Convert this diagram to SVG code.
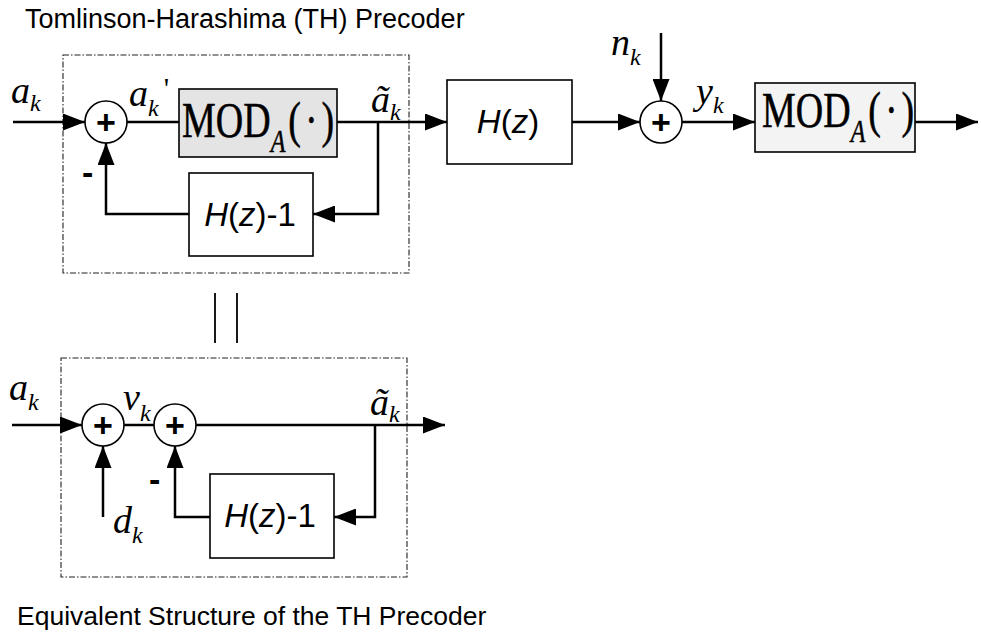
<svg xmlns="http://www.w3.org/2000/svg" width="981" height="636" viewBox="0 0 981 636">
<style>
.bg{fill:#fff}
.sig{fill:none;stroke:#000;stroke-width:2.5}
.box{fill:#fff;stroke:#000;stroke-width:1.6}
.modA{fill:#e4e4e4;stroke:#000;stroke-width:1.6}
.modB{fill:#f3f3f3;stroke:#000;stroke-width:1.6}
.sum{fill:#fff;stroke:#000;stroke-width:1.6}
.dash{fill:none;stroke:#222;stroke-width:1.1;stroke-dasharray:6,2,1.5,2}
.eq{stroke:#000;stroke-width:1.8}
.math{font-family:"Liberation Serif","Times New Roman",serif;font-style:italic;font-size:38px;fill:#000}
.sub{font-size:24px}
.modsub{font-style:italic;font-size:24px}
.paren{letter-spacing:4px}
.sans{font-family:"Liberation Sans",Arial,sans-serif;fill:#000}
.plus{font-family:"Liberation Sans",Arial,sans-serif;font-weight:bold;font-size:34px;text-anchor:middle;fill:#000}
.minus{font-family:"Liberation Sans",Arial,sans-serif;font-weight:bold;font-size:34px;fill:#000}
.mod{font-family:"Liberation Serif","Times New Roman",serif;font-size:38px;fill:#000;stroke:#000;stroke-width:0.4}
.hz{font-family:"Liberation Sans",Arial,sans-serif;font-size:33px;text-anchor:middle;fill:#000}
</style>
<defs>
<marker id="arr" markerUnits="userSpaceOnUse" markerWidth="23" markerHeight="17" refX="22" refY="8.5" orient="auto">
<path d="M0,0 L22,8.5 L0,17 Z" fill="#000"/>
</marker>
</defs>
<rect class="bg" x="0" y="0" width="981" height="636"/>

<g id="titles">
<text class="sans" x="25" y="28" font-size="27">Tomlinson-Harashima (TH) Precoder</text>
<text class="sans" x="17" y="625" font-size="26.5">Equivalent Structure of the TH Precoder</text>
</g>

<g id="precoder-frame"><rect class="dash" x="63" y="55" width="346" height="218"/></g>
<g id="equivalent-frame"><rect class="dash" x="61" y="358" width="346" height="219"/></g>

<g id="connectors">
<line class="sig" x1="13" y1="122" x2="85" y2="122" marker-end="url(#arr)"/>
<line class="sig" x1="127" y1="122" x2="179" y2="122"/>
<line class="sig" x1="337" y1="122" x2="447" y2="122" marker-end="url(#arr)"/>
<polyline class="sig" points="378,122 378,214 313,214" marker-end="url(#arr)"/>
<polyline class="sig" points="189,214 106,214 106,143" marker-end="url(#arr)"/>
<line class="sig" x1="572" y1="122" x2="640" y2="122" marker-end="url(#arr)"/>
<line class="sig" x1="661" y1="33" x2="661" y2="101" marker-end="url(#arr)"/>
<line class="sig" x1="682" y1="122" x2="755" y2="122" marker-end="url(#arr)"/>
<line class="sig" x1="915" y1="122" x2="978" y2="122" marker-end="url(#arr)"/>
<line class="sig" x1="12" y1="425" x2="82" y2="425" marker-end="url(#arr)"/>
<line class="sig" x1="124" y1="425" x2="154" y2="425"/>
<line class="sig" x1="196" y1="425" x2="445" y2="425" marker-end="url(#arr)"/>
<polyline class="sig" points="375,425 375,517 334,517" marker-end="url(#arr)"/>
<polyline class="sig" points="210,517 175,517 175,446" marker-end="url(#arr)"/>
<line class="sig" x1="103" y1="517" x2="103" y2="446" marker-end="url(#arr)"/>
</g>

<g id="equiv-sign">
<line class="eq" x1="215" y1="293" x2="215" y2="343"/>
<line class="eq" x1="237" y1="293" x2="237" y2="343"/>
</g>

<g id="sum1">
<circle class="sum" cx="106" cy="122" r="21"/>
<text class="plus" x="106" y="134">+</text>
</g>
<g id="mod1">
<rect class="modA" x="179" y="89" width="158" height="68"/>
<g transform="translate(182,137) scale(1,1.35)">
<text class="mod" x="0" y="0">MOD<tspan class="modsub" dy="11">A</tspan><tspan class="paren" dy="-11" dx="3">(·)</tspan></text>
</g>
</g>
<g id="fb1">
<rect class="box" x="189" y="173" width="124" height="83"/>
<text class="hz" x="250" y="226"><tspan font-style="italic">H</tspan>(<tspan font-style="italic">z</tspan>)-1</text>
</g>
<g id="hz">
<rect class="box" x="447" y="80" width="125" height="84"/>
<text class="hz" x="508" y="133"><tspan font-style="italic">H</tspan>(<tspan font-style="italic">z</tspan>)</text>
</g>
<g id="sum2">
<circle class="sum" cx="661" cy="122" r="21"/>
<text class="plus" x="661" y="134">+</text>
</g>
<g id="mod2">
<rect class="modB" x="755" y="83" width="160" height="69"/>
<g transform="translate(762,127) scale(1,1.35)">
<text class="mod" x="0" y="0">MOD<tspan class="modsub" dy="11">A</tspan><tspan class="paren" dy="-11" dx="3">(·)</tspan></text>
</g>
</g>

<g id="sum3">
<circle class="sum" cx="103" cy="425" r="21"/>
<text class="plus" x="103" y="437">+</text>
</g>
<g id="sum4">
<circle class="sum" cx="175" cy="425" r="21"/>
<text class="plus" x="175" y="437">+</text>
</g>
<g id="fb2">
<rect class="box" x="210" y="474" width="124" height="84"/>
<text class="hz" x="270" y="527"><tspan font-style="italic">H</tspan>(<tspan font-style="italic">z</tspan>)-1</text>
</g>

<g id="labels">
<text class="math" x="11" y="103">a<tspan class="sub" dy="8">k</tspan></text>
<text class="math" x="129" y="106">a<tspan class="sub" dy="10">k</tspan><tspan font-size="30" dx="5" dy="-18" font-style="normal">'</tspan></text>
<text class="math" x="371" y="112">ã<tspan class="sub" dy="8">k</tspan></text>
<text class="math" x="611" y="55">n<tspan class="sub" dy="10">k</tspan></text>
<text class="math" x="696" y="104">y<tspan class="sub" dy="9">k</tspan></text>
<text class="minus" x="82" y="184">-</text>
<text class="math" x="9" y="400">a<tspan class="sub" dy="10">k</tspan></text>
<text class="math" x="123" y="410">v<tspan class="sub" dy="11">k</tspan></text>
<text class="math" x="370" y="415">ã<tspan class="sub" dy="7">k</tspan></text>
<text class="math" x="113" y="533">d<tspan class="sub" dy="10">k</tspan></text>
<text class="minus" x="149" y="491">-</text>
</g>
</svg>
